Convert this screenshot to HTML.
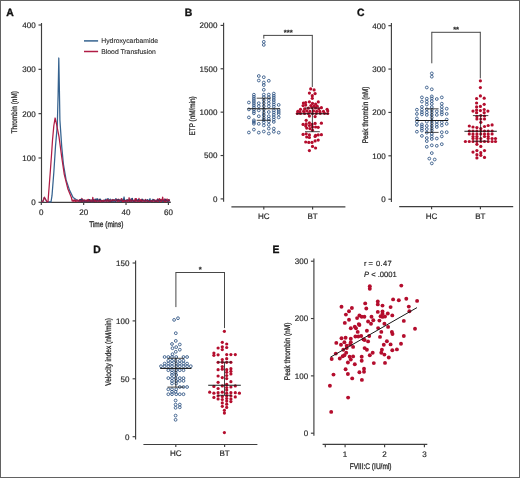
<!DOCTYPE html>
<html><head><meta charset="utf-8"><style>
html,body{margin:0;padding:0;background:#fff;}
body{width:520px;height:478px;overflow:hidden;font-family:"Liberation Sans",sans-serif;}
svg{display:block;will-change:transform;} text{text-rendering:geometricPrecision;}
</style></head><body>
<svg width="520" height="478" viewBox="0 0 520 478">
<rect x="0" y="0" width="520" height="478" fill="#fff"/>
<rect x="0.5" y="0.5" width="519" height="477" fill="none" stroke="#626262" stroke-width="1"/>
<text transform="translate(6.30,15.60) scale(0.98,1)" x="0" y="0" font-size="10.6" font-weight="bold" fill="#111" stroke="#111" stroke-width="0.35" font-family="Liberation Sans, sans-serif">A</text>
<text transform="translate(184.80,15.70) scale(0.98,1)" x="0" y="0" font-size="10.6" font-weight="bold" fill="#111" stroke="#111" stroke-width="0.35" font-family="Liberation Sans, sans-serif">B</text>
<text transform="translate(357.00,15.50) scale(0.98,1)" x="0" y="0" font-size="10.6" font-weight="bold" fill="#111" stroke="#111" stroke-width="0.35" font-family="Liberation Sans, sans-serif">C</text>
<text transform="translate(93.20,252.60) scale(0.98,1)" x="0" y="0" font-size="10.6" font-weight="bold" fill="#111" stroke="#111" stroke-width="0.35" font-family="Liberation Sans, sans-serif">D</text>
<text transform="translate(272.40,252.80) scale(0.98,1)" x="0" y="0" font-size="10.6" font-weight="bold" fill="#111" stroke="#111" stroke-width="0.35" font-family="Liberation Sans, sans-serif">E</text>
<line x1="41.50" y1="23.00" x2="41.50" y2="202.80" stroke="#3e3e3e" stroke-width="1.15"/>
<line x1="38.50" y1="202.30" x2="41.50" y2="202.30" stroke="#3e3e3e" stroke-width="1.15"/>
<text x="35.60" y="205.18" font-size="8.0" text-anchor="end" font-weight="normal" fill="#2a2a2a" stroke="#2a2a2a" stroke-width="0.2" font-family="Liberation Sans, sans-serif" >0</text>
<line x1="38.50" y1="157.98" x2="41.50" y2="157.98" stroke="#3e3e3e" stroke-width="1.15"/>
<text x="35.60" y="160.86" font-size="8.0" text-anchor="end" font-weight="normal" fill="#2a2a2a" stroke="#2a2a2a" stroke-width="0.2" font-family="Liberation Sans, sans-serif" >100</text>
<line x1="38.50" y1="113.65" x2="41.50" y2="113.65" stroke="#3e3e3e" stroke-width="1.15"/>
<text x="35.60" y="116.53" font-size="8.0" text-anchor="end" font-weight="normal" fill="#2a2a2a" stroke="#2a2a2a" stroke-width="0.2" font-family="Liberation Sans, sans-serif" >200</text>
<line x1="38.50" y1="69.32" x2="41.50" y2="69.32" stroke="#3e3e3e" stroke-width="1.15"/>
<text x="35.60" y="72.20" font-size="8.0" text-anchor="end" font-weight="normal" fill="#2a2a2a" stroke="#2a2a2a" stroke-width="0.2" font-family="Liberation Sans, sans-serif" >300</text>
<line x1="38.50" y1="25.00" x2="41.50" y2="25.00" stroke="#3e3e3e" stroke-width="1.15"/>
<text x="35.60" y="27.88" font-size="8.0" text-anchor="end" font-weight="normal" fill="#2a2a2a" stroke="#2a2a2a" stroke-width="0.2" font-family="Liberation Sans, sans-serif" >400</text>
<line x1="41.00" y1="202.30" x2="170.80" y2="202.30" stroke="#3e3e3e" stroke-width="1.15"/>
<line x1="41.30" y1="202.30" x2="41.30" y2="204.90" stroke="#3e3e3e" stroke-width="1.15"/>
<text x="41.30" y="214.60" font-size="8.0" text-anchor="middle" font-weight="normal" fill="#2a2a2a" stroke="#2a2a2a" stroke-width="0.2" font-family="Liberation Sans, sans-serif" >0</text>
<line x1="83.67" y1="202.30" x2="83.67" y2="204.90" stroke="#3e3e3e" stroke-width="1.15"/>
<text x="83.67" y="214.60" font-size="8.0" text-anchor="middle" font-weight="normal" fill="#2a2a2a" stroke="#2a2a2a" stroke-width="0.2" font-family="Liberation Sans, sans-serif" >20</text>
<line x1="126.03" y1="202.30" x2="126.03" y2="204.90" stroke="#3e3e3e" stroke-width="1.15"/>
<text x="126.03" y="214.60" font-size="8.0" text-anchor="middle" font-weight="normal" fill="#2a2a2a" stroke="#2a2a2a" stroke-width="0.2" font-family="Liberation Sans, sans-serif" >40</text>
<line x1="168.40" y1="202.30" x2="168.40" y2="204.90" stroke="#3e3e3e" stroke-width="1.15"/>
<text x="168.40" y="214.60" font-size="8.0" text-anchor="middle" font-weight="normal" fill="#2a2a2a" stroke="#2a2a2a" stroke-width="0.2" font-family="Liberation Sans, sans-serif" >60</text>
<text transform="translate(13.80,112.20) rotate(-90) scale(0.79,1)" x="0" y="2.87" font-size="8.2" text-anchor="middle" fill="#2a2a2a" stroke="#2a2a2a" stroke-width="0.3" font-family="Liberation Sans, sans-serif">Thrombin (nM)</text>
<text transform="translate(106.30,224.00) scale(0.8,1)" x="0" y="2.87" font-size="8.2" text-anchor="middle" fill="#2a2a2a" stroke="#2a2a2a" stroke-width="0.3" font-family="Liberation Sans, sans-serif">Time (mins)</text>
<line x1="84.00" y1="40.90" x2="98.10" y2="40.90" stroke="#35628f" stroke-width="1.5"/>
<line x1="84.00" y1="51.50" x2="98.10" y2="51.50" stroke="#b01c45" stroke-width="1.5"/>
<text x="101.30" y="43.40" font-size="6.8" text-anchor="start" font-weight="normal" fill="#2a2a2a" stroke="#2a2a2a" stroke-width="0.1" font-family="Liberation Sans, sans-serif" >Hydroxycarbamide</text>
<text x="101.30" y="53.60" font-size="6.8" text-anchor="start" font-weight="normal" fill="#2a2a2a" stroke="#2a2a2a" stroke-width="0.1" font-family="Liberation Sans, sans-serif" >Blood Transfusion</text>
<path d="M41.60,201.80 L43.00,201.30 L44.30,197.50 L45.60,199.50 L47.00,201.80 L51.00,201.80 L52.00,195.70 L53.80,172.80 L55.50,146.40 L57.30,125.30 L58.10,95.00 L58.80,58.00 L59.40,90.00 L59.90,120.00 L61.70,146.40 L63.40,164.00 L66.10,179.90 L69.60,190.40 L73.10,197.50 L78.40,201.00 L79.00,201.58 L79.55,200.07 L80.10,200.49 L80.65,200.41 L81.20,201.36 L81.75,201.36 L82.30,199.23 L82.85,201.50 L83.40,201.64 L83.95,200.75 L84.50,200.24 L85.05,201.66 L85.60,200.94 L86.15,200.43 L86.70,201.22 L87.25,201.13 L87.80,199.97 L88.35,199.74 L88.90,199.59 L89.45,201.39 L90.00,201.48 L90.55,201.28 L91.10,201.61 L91.65,199.96 L92.20,201.60 L92.75,201.39 L93.30,200.72 L93.85,200.60 L94.40,201.18 L94.95,199.08 L95.50,201.05 L96.05,198.84 L96.60,199.85 L97.15,200.27 L97.70,198.84 L98.25,200.66 L98.80,201.27 L99.35,201.29 L99.90,201.10 L100.45,201.01 L101.00,200.34 L101.55,201.40 L102.10,200.93 L102.65,200.91 L103.20,200.42 L103.75,201.64 L104.30,200.68 L104.85,200.31 L105.40,199.27 L105.95,200.28 L106.50,200.46 L107.05,198.98 L107.60,199.23 L108.15,198.57 L108.70,201.33 L109.25,201.02 L109.80,199.55 L110.35,199.12 L110.90,200.31 L111.45,200.75 L112.00,201.50 L112.55,200.83 L113.10,200.87 L113.65,200.22 L114.20,201.60 L114.75,201.24 L115.30,199.31 L115.85,198.57 L116.40,199.72 L116.95,200.47 L117.50,201.07 L118.05,201.30 L118.60,201.09 L119.15,199.56 L119.70,201.43 L120.25,201.42 L120.80,201.40 L121.35,201.44 L121.90,201.47 L122.45,200.56 L123.00,199.02 L123.55,199.22 L124.10,197.01 L124.65,201.54 L125.20,201.51 L125.75,201.22 L126.30,201.43 L126.85,201.51 L127.40,201.27 L127.95,200.44 L128.50,201.12 L129.05,201.22 L129.60,199.18 L130.15,201.01 L130.70,200.42 L131.25,198.68 L131.80,200.69 L132.35,200.93 L132.90,200.17 L133.45,201.31 L134.00,200.62 L134.55,200.33 L135.10,200.02 L135.65,201.04 L136.20,200.26 L136.75,201.14 L137.30,199.82 L137.85,200.83 L138.40,201.61 L138.95,200.60 L139.50,200.14 L140.05,201.48 L140.60,201.51 L141.15,201.64 L141.70,200.23 L142.25,200.83 L142.80,199.92 L143.35,201.47 L143.90,201.39 L144.45,201.36 L145.00,200.69 L145.55,200.65 L146.10,201.18 L146.65,200.61 L147.20,201.13 L147.75,199.65 L148.30,201.24 L148.85,201.64 L149.40,200.20 L149.95,198.71 L150.50,201.69 L151.05,200.26 L151.60,200.75 L152.15,201.07 L152.70,200.96 L153.25,200.85 L153.80,200.51 L154.35,200.42 L154.90,201.31 L155.45,200.50 L156.00,201.66 L156.55,201.40 L157.10,199.78 L157.65,200.81 L158.20,201.36 L158.75,200.84 L159.30,201.38 L159.85,200.79 L160.40,201.17 L160.95,200.42 L161.50,201.51 L162.05,201.13 L162.60,201.19 L163.15,200.65 L163.70,201.00 L164.25,200.49 L164.80,201.21 L165.35,201.08 L165.90,200.72 L166.45,200.09 L167.00,200.63 L167.55,200.76 L168.10,201.60 L168.65,201.05 L169.20,200.87 L169.75,201.54" fill="none" stroke="#35628f" stroke-width="1.25" stroke-linejoin="round"/>
<path d="M41.60,201.80 L43.00,201.10 L44.40,197.20 L45.80,199.80 L47.00,201.80 L48.00,201.60 L49.20,186.00 L50.40,170.30 L51.50,155.00 L52.50,140.20 L53.80,126.00 L55.10,118.00 L56.40,123.50 L59.00,136.70 L61.70,157.00 L64.30,174.60 L67.80,188.70 L71.40,197.50 L72.20,201.00 L73.00,200.11 L73.55,201.21 L74.10,200.41 L74.65,201.03 L75.20,199.97 L75.75,201.61 L76.30,201.08 L76.85,200.27 L77.40,200.12 L77.95,200.02 L78.50,200.78 L79.05,201.08 L79.60,199.71 L80.15,200.42 L80.70,201.57 L81.25,201.34 L81.80,198.36 L82.35,201.32 L82.90,200.68 L83.45,200.22 L84.00,201.58 L84.55,201.51 L85.10,201.25 L85.65,201.62 L86.20,201.34 L86.75,200.80 L87.30,200.27 L87.85,201.43 L88.40,199.37 L88.95,200.79 L89.50,199.85 L90.05,201.48 L90.60,199.78 L91.15,201.70 L91.70,200.69 L92.25,201.42 L92.80,197.41 L93.35,201.64 L93.90,200.60 L94.45,199.98 L95.00,201.33 L95.55,200.84 L96.10,201.58 L96.65,201.22 L97.20,201.57 L97.75,200.39 L98.30,200.97 L98.85,200.64 L99.40,199.27 L99.95,201.04 L100.50,200.81 L101.05,201.70 L101.60,200.46 L102.15,200.92 L102.70,200.40 L103.25,201.54 L103.80,200.06 L104.35,200.89 L104.90,201.52 L105.45,200.69 L106.00,200.70 L106.55,201.09 L107.10,199.57 L107.65,201.21 L108.20,200.98 L108.75,201.04 L109.30,201.33 L109.85,201.43 L110.40,201.46 L110.95,200.92 L111.50,200.38 L112.05,201.18 L112.60,200.93 L113.15,199.74 L113.70,200.43 L114.25,200.33 L114.80,200.69 L115.35,200.79 L115.90,201.46 L116.45,200.70 L117.00,199.39 L117.55,201.27 L118.10,200.80 L118.65,199.15 L119.20,201.38 L119.75,200.44 L120.30,200.56 L120.85,200.22 L121.40,198.54 L121.95,199.39 L122.50,201.47 L123.05,200.72 L123.60,201.54 L124.15,200.55 L124.70,201.55 L125.25,201.21 L125.80,200.25 L126.35,200.78 L126.90,201.62 L127.45,199.94 L128.00,200.71 L128.55,200.67 L129.10,200.25 L129.65,201.32 L130.20,199.37 L130.75,200.52 L131.30,201.39 L131.85,201.01 L132.40,199.69 L132.95,200.39 L133.50,201.70 L134.05,200.86 L134.60,201.49 L135.15,198.62 L135.70,200.65 L136.25,198.69 L136.80,200.39 L137.35,200.51 L137.90,201.16 L138.45,201.41 L139.00,198.46 L139.55,200.90 L140.10,201.55 L140.65,199.68 L141.20,201.59 L141.75,199.28 L142.30,200.81 L142.85,201.08 L143.40,200.76 L143.95,199.85 L144.50,200.85 L145.05,201.31 L145.60,199.33 L146.15,200.77 L146.70,200.91 L147.25,201.01 L147.80,200.94 L148.35,201.26 L148.90,200.68 L149.45,201.59 L150.00,201.27 L150.55,201.55 L151.10,201.14 L151.65,200.58 L152.20,201.08 L152.75,201.40 L153.30,199.93 L153.85,199.62 L154.40,199.81 L154.95,201.47 L155.50,201.08 L156.05,200.09 L156.60,201.48 L157.15,201.43 L157.70,198.86 L158.25,201.38 L158.80,200.69 L159.35,198.52 L159.90,199.87 L160.45,201.45 L161.00,199.61 L161.55,201.47 L162.10,199.61 L162.65,197.18 L163.20,200.25 L163.75,200.96 L164.30,201.47 L164.85,198.92 L165.40,201.54 L165.95,199.68 L166.50,200.92 L167.05,198.92 L167.60,200.52 L168.15,200.11 L168.70,199.56 L169.25,200.16 L169.80,199.71" fill="none" stroke="#b01c45" stroke-width="1.25" stroke-linejoin="round"/>
<path d="M79.00,200.29 L79.55,200.32 L80.10,200.90 L80.65,198.95 L81.20,201.53 L81.75,198.99 L82.30,200.38 L82.85,201.46 L83.40,200.07 L83.95,201.09 L84.50,201.22 L85.05,201.36 L85.60,200.81 L86.15,201.53 L86.70,200.19 L87.25,201.27 L87.80,200.86 L88.35,201.63 L88.90,201.21 L89.45,199.07 L90.00,201.63 L90.55,201.00 L91.10,201.51 L91.65,201.07 L92.20,201.24 L92.75,201.28 L93.30,199.27 L93.85,201.67 L94.40,201.49 L94.95,200.89 L95.50,199.28 L96.05,201.43 L96.60,200.95 L97.15,198.73 L97.70,199.95 L98.25,201.26 L98.80,200.90 L99.35,198.96 L99.90,200.56 L100.45,198.79 L101.00,200.91 L101.55,201.07 L102.10,201.24 L102.65,201.15 L103.20,201.43 L103.75,201.35 L104.30,201.18 L104.85,200.15 L105.40,199.89 L105.95,201.66 L106.50,201.16 L107.05,200.82 L107.60,201.13 L108.15,200.45 L108.70,201.15 L109.25,200.44 L109.80,201.58 L110.35,201.31 L110.90,201.45 L111.45,201.66 L112.00,201.70 L112.55,199.38 L113.10,199.60 L113.65,201.46 L114.20,200.65 L114.75,200.52 L115.30,201.33 L115.85,201.68 L116.40,200.44 L116.95,198.99 L117.50,201.04 L118.05,199.80 L118.60,199.11 L119.15,200.47 L119.70,201.07 L120.25,200.77 L120.80,199.65 L121.35,201.38 L121.90,200.15 L122.45,200.45 L123.00,201.00 L123.55,199.43 L124.10,198.88 L124.65,201.04 L125.20,200.78 L125.75,201.11 L126.30,199.64 L126.85,199.98 L127.40,200.24 L127.95,199.40 L128.50,200.70 L129.05,201.41 L129.60,201.39 L130.15,201.01 L130.70,201.10 L131.25,201.38 L131.80,200.19 L132.35,197.93 L132.90,201.50 L133.45,201.38 L134.00,200.22 L134.55,201.58 L135.10,200.97 L135.65,201.21 L136.20,199.83 L136.75,200.45 L137.30,200.49 L137.85,201.35 L138.40,199.19 L138.95,200.78 L139.50,200.33 L140.05,201.41 L140.60,201.37 L141.15,201.16 L141.70,201.36 L142.25,198.78 L142.80,200.26 L143.35,200.16 L143.90,200.70 L144.45,200.90 L145.00,200.33 L145.55,199.83 L146.10,201.33 L146.65,200.43 L147.20,199.35 L147.75,201.69 L148.30,200.40 L148.85,201.50 L149.40,199.76 L149.95,201.56 L150.50,200.71 L151.05,201.57 L151.60,201.14 L152.15,201.32 L152.70,199.14 L153.25,199.20 L153.80,200.07 L154.35,201.28 L154.90,200.61 L155.45,201.70 L156.00,200.89 L156.55,201.19 L157.10,201.22 L157.65,199.34 L158.20,200.34 L158.75,200.09 L159.30,201.41 L159.85,199.87 L160.40,200.66 L160.95,199.96 L161.50,200.47 L162.05,200.28 L162.60,201.43 L163.15,200.34 L163.70,201.47 L164.25,199.88 L164.80,200.91 L165.35,198.91 L165.90,200.77 L166.45,200.42 L167.00,200.19 L167.55,201.59 L168.10,201.69 L168.65,199.91 L169.20,199.55 L169.75,201.19" fill="none" stroke="#243a66" stroke-width="0.9" stroke-linejoin="round"/>
<path d="M73.00,201.60 L73.55,199.88 L74.10,200.76 L74.65,199.56 L75.20,201.36 L75.75,200.90 L76.30,201.18 L76.85,201.02 L77.40,201.64 L77.95,201.07 L78.50,200.88 L79.05,201.54 L79.60,201.35 L80.15,200.47 L80.70,200.84 L81.25,200.30 L81.80,200.74 L82.35,201.61 L82.90,200.23 L83.45,199.76 L84.00,200.90 L84.55,199.68 L85.10,200.78 L85.65,199.94 L86.20,199.67 L86.75,201.03 L87.30,201.60 L87.85,199.36 L88.40,199.69 L88.95,201.53 L89.50,200.53 L90.05,201.20 L90.60,200.86 L91.15,200.74 L91.70,201.47 L92.25,201.15 L92.80,200.79 L93.35,199.76 L93.90,199.87 L94.45,201.53 L95.00,199.82 L95.55,201.03 L96.10,200.51 L96.65,200.35 L97.20,201.00 L97.75,201.44 L98.30,201.27 L98.85,200.30 L99.40,201.67 L99.95,200.37 L100.50,200.75 L101.05,200.96 L101.60,200.75 L102.15,200.68 L102.70,201.62 L103.25,200.82 L103.80,201.31 L104.35,200.62 L104.90,200.14 L105.45,200.93 L106.00,200.56 L106.55,201.36 L107.10,201.16 L107.65,198.96 L108.20,201.06 L108.75,201.52 L109.30,200.91 L109.85,199.55 L110.40,201.25 L110.95,201.16 L111.50,199.63 L112.05,200.45 L112.60,200.07 L113.15,200.28 L113.70,201.02 L114.25,199.45 L114.80,200.35 L115.35,200.35 L115.90,199.62 L116.45,199.27 L117.00,200.17 L117.55,200.54 L118.10,201.30 L118.65,200.08 L119.20,200.30 L119.75,200.92 L120.30,200.47 L120.85,200.20 L121.40,201.15 L121.95,200.86 L122.50,200.77 L123.05,200.14 L123.60,201.05 L124.15,201.14 L124.70,200.14 L125.25,200.97 L125.80,200.29 L126.35,201.18 L126.90,200.45 L127.45,201.39 L128.00,201.41 L128.55,201.26 L129.10,197.48 L129.65,201.62 L130.20,200.97 L130.75,201.00 L131.30,201.51 L131.85,200.09 L132.40,200.50 L132.95,201.07 L133.50,200.18 L134.05,200.01 L134.60,200.62 L135.15,201.66 L135.70,198.53 L136.25,201.63 L136.80,200.35 L137.35,201.56 L137.90,201.21 L138.45,200.82 L139.00,200.31 L139.55,201.42 L140.10,200.04 L140.65,200.65 L141.20,201.60 L141.75,199.88 L142.30,201.16 L142.85,200.95 L143.40,200.74 L143.95,201.11 L144.50,201.66 L145.05,200.71 L145.60,201.38 L146.15,200.63 L146.70,200.53 L147.25,201.41 L147.80,199.97 L148.35,200.65 L148.90,201.61 L149.45,201.64 L150.00,201.58 L150.55,200.93 L151.10,200.18 L151.65,201.52 L152.20,201.21 L152.75,200.84 L153.30,201.10 L153.85,201.44 L154.40,201.32 L154.95,201.26 L155.50,201.32 L156.05,200.95 L156.60,201.31 L157.15,200.58 L157.70,201.08 L158.25,201.57 L158.80,200.87 L159.35,200.71 L159.90,199.11 L160.45,199.15 L161.00,200.27 L161.55,201.30 L162.10,200.21 L162.65,200.13 L163.20,200.58 L163.75,199.42 L164.30,201.10 L164.85,201.53 L165.40,200.79 L165.95,201.67 L166.50,201.24 L167.05,201.20 L167.60,200.55 L168.15,201.55 L168.70,200.49 L169.25,199.91 L169.80,201.27" fill="none" stroke="#a3143a" stroke-width="0.9" stroke-linejoin="round"/>
<line x1="223.60" y1="22.80" x2="223.60" y2="201.70" stroke="#3e3e3e" stroke-width="1.15"/>
<line x1="220.60" y1="198.90" x2="223.60" y2="198.90" stroke="#3e3e3e" stroke-width="1.15"/>
<text x="217.40" y="201.78" font-size="8.0" text-anchor="end" font-weight="normal" fill="#2a2a2a" stroke="#2a2a2a" stroke-width="0.2" font-family="Liberation Sans, sans-serif" >0</text>
<line x1="220.60" y1="155.53" x2="223.60" y2="155.53" stroke="#3e3e3e" stroke-width="1.15"/>
<text x="217.40" y="158.41" font-size="8.0" text-anchor="end" font-weight="normal" fill="#2a2a2a" stroke="#2a2a2a" stroke-width="0.2" font-family="Liberation Sans, sans-serif" >500</text>
<line x1="220.60" y1="112.15" x2="223.60" y2="112.15" stroke="#3e3e3e" stroke-width="1.15"/>
<text x="217.40" y="115.03" font-size="8.0" text-anchor="end" font-weight="normal" fill="#2a2a2a" stroke="#2a2a2a" stroke-width="0.2" font-family="Liberation Sans, sans-serif" >1000</text>
<line x1="220.60" y1="68.78" x2="223.60" y2="68.78" stroke="#3e3e3e" stroke-width="1.15"/>
<text x="217.40" y="71.66" font-size="8.0" text-anchor="end" font-weight="normal" fill="#2a2a2a" stroke="#2a2a2a" stroke-width="0.2" font-family="Liberation Sans, sans-serif" >1500</text>
<line x1="220.60" y1="25.40" x2="223.60" y2="25.40" stroke="#3e3e3e" stroke-width="1.15"/>
<text x="217.40" y="28.28" font-size="8.0" text-anchor="end" font-weight="normal" fill="#2a2a2a" stroke="#2a2a2a" stroke-width="0.2" font-family="Liberation Sans, sans-serif" >2000</text>
<line x1="231.40" y1="206.80" x2="345.40" y2="206.80" stroke="#3e3e3e" stroke-width="1.15"/>
<line x1="263.80" y1="206.80" x2="263.80" y2="209.40" stroke="#3e3e3e" stroke-width="1.15"/>
<text x="263.80" y="218.70" font-size="8.0" text-anchor="middle" font-weight="normal" fill="#2a2a2a" stroke="#2a2a2a" stroke-width="0.2" font-family="Liberation Sans, sans-serif" >HC</text>
<line x1="312.60" y1="206.80" x2="312.60" y2="209.40" stroke="#3e3e3e" stroke-width="1.15"/>
<text x="312.60" y="218.70" font-size="8.0" text-anchor="middle" font-weight="normal" fill="#2a2a2a" stroke="#2a2a2a" stroke-width="0.2" font-family="Liberation Sans, sans-serif" >BT</text>
<text transform="translate(192.00,115.90) rotate(-90) scale(0.78,1)" x="0" y="2.87" font-size="8.2" text-anchor="middle" fill="#2a2a2a" stroke="#2a2a2a" stroke-width="0.3" font-family="Liberation Sans, sans-serif">ETP (nM/min)</text>
<circle cx="248.90" cy="102.50" r="1.4" fill="none" stroke="#2c5282" stroke-width="0.85"/>
<circle cx="248.90" cy="109.40" r="1.4" fill="none" stroke="#2c5282" stroke-width="0.85"/>
<circle cx="248.90" cy="117.40" r="1.4" fill="none" stroke="#2c5282" stroke-width="0.85"/>
<circle cx="248.90" cy="132.50" r="1.4" fill="none" stroke="#2c5282" stroke-width="0.85"/>
<circle cx="253.90" cy="94.70" r="1.4" fill="none" stroke="#2c5282" stroke-width="0.85"/>
<circle cx="253.90" cy="96.80" r="1.4" fill="none" stroke="#2c5282" stroke-width="0.85"/>
<circle cx="253.90" cy="98.90" r="1.4" fill="none" stroke="#2c5282" stroke-width="0.85"/>
<circle cx="253.90" cy="101.00" r="1.4" fill="none" stroke="#2c5282" stroke-width="0.85"/>
<circle cx="253.90" cy="103.10" r="1.4" fill="none" stroke="#2c5282" stroke-width="0.85"/>
<circle cx="253.90" cy="105.20" r="1.4" fill="none" stroke="#2c5282" stroke-width="0.85"/>
<circle cx="253.90" cy="107.30" r="1.4" fill="none" stroke="#2c5282" stroke-width="0.85"/>
<circle cx="253.90" cy="109.40" r="1.4" fill="none" stroke="#2c5282" stroke-width="0.85"/>
<circle cx="253.90" cy="111.50" r="1.4" fill="none" stroke="#2c5282" stroke-width="0.85"/>
<circle cx="253.90" cy="113.30" r="1.4" fill="none" stroke="#2c5282" stroke-width="0.85"/>
<circle cx="253.90" cy="120.30" r="1.4" fill="none" stroke="#2c5282" stroke-width="0.85"/>
<circle cx="253.90" cy="122.00" r="1.4" fill="none" stroke="#2c5282" stroke-width="0.85"/>
<circle cx="253.90" cy="123.80" r="1.4" fill="none" stroke="#2c5282" stroke-width="0.85"/>
<circle cx="253.90" cy="129.60" r="1.4" fill="none" stroke="#2c5282" stroke-width="0.85"/>
<circle cx="258.80" cy="76.00" r="1.4" fill="none" stroke="#2c5282" stroke-width="0.85"/>
<circle cx="258.80" cy="80.50" r="1.4" fill="none" stroke="#2c5282" stroke-width="0.85"/>
<circle cx="258.80" cy="103.20" r="1.4" fill="none" stroke="#2c5282" stroke-width="0.85"/>
<circle cx="258.80" cy="106.20" r="1.4" fill="none" stroke="#2c5282" stroke-width="0.85"/>
<circle cx="258.80" cy="110.40" r="1.4" fill="none" stroke="#2c5282" stroke-width="0.85"/>
<circle cx="258.80" cy="116.20" r="1.4" fill="none" stroke="#2c5282" stroke-width="0.85"/>
<circle cx="258.80" cy="123.80" r="1.4" fill="none" stroke="#2c5282" stroke-width="0.85"/>
<circle cx="258.80" cy="132.60" r="1.4" fill="none" stroke="#2c5282" stroke-width="0.85"/>
<circle cx="263.80" cy="41.80" r="1.4" fill="none" stroke="#2c5282" stroke-width="0.85"/>
<circle cx="263.80" cy="44.90" r="1.4" fill="none" stroke="#2c5282" stroke-width="0.85"/>
<circle cx="263.80" cy="77.20" r="1.4" fill="none" stroke="#2c5282" stroke-width="0.85"/>
<circle cx="263.80" cy="82.50" r="1.4" fill="none" stroke="#2c5282" stroke-width="0.85"/>
<circle cx="263.80" cy="85.10" r="1.4" fill="none" stroke="#2c5282" stroke-width="0.85"/>
<circle cx="263.80" cy="89.80" r="1.4" fill="none" stroke="#2c5282" stroke-width="0.85"/>
<circle cx="263.80" cy="94.60" r="1.4" fill="none" stroke="#2c5282" stroke-width="0.85"/>
<circle cx="263.80" cy="97.20" r="1.4" fill="none" stroke="#2c5282" stroke-width="0.85"/>
<circle cx="263.80" cy="100.20" r="1.4" fill="none" stroke="#2c5282" stroke-width="0.85"/>
<circle cx="263.80" cy="103.20" r="1.4" fill="none" stroke="#2c5282" stroke-width="0.85"/>
<circle cx="263.80" cy="106.20" r="1.4" fill="none" stroke="#2c5282" stroke-width="0.85"/>
<circle cx="263.80" cy="109.40" r="1.4" fill="none" stroke="#2c5282" stroke-width="0.85"/>
<circle cx="263.80" cy="112.60" r="1.4" fill="none" stroke="#2c5282" stroke-width="0.85"/>
<circle cx="263.80" cy="115.10" r="1.4" fill="none" stroke="#2c5282" stroke-width="0.85"/>
<circle cx="263.80" cy="117.70" r="1.4" fill="none" stroke="#2c5282" stroke-width="0.85"/>
<circle cx="263.80" cy="119.90" r="1.4" fill="none" stroke="#2c5282" stroke-width="0.85"/>
<circle cx="263.80" cy="122.40" r="1.4" fill="none" stroke="#2c5282" stroke-width="0.85"/>
<circle cx="263.80" cy="125.40" r="1.4" fill="none" stroke="#2c5282" stroke-width="0.85"/>
<circle cx="263.80" cy="131.50" r="1.4" fill="none" stroke="#2c5282" stroke-width="0.85"/>
<circle cx="268.80" cy="80.80" r="1.4" fill="none" stroke="#2c5282" stroke-width="0.85"/>
<circle cx="268.80" cy="94.60" r="1.4" fill="none" stroke="#2c5282" stroke-width="0.85"/>
<circle cx="268.80" cy="97.30" r="1.4" fill="none" stroke="#2c5282" stroke-width="0.85"/>
<circle cx="268.80" cy="100.30" r="1.4" fill="none" stroke="#2c5282" stroke-width="0.85"/>
<circle cx="268.80" cy="103.30" r="1.4" fill="none" stroke="#2c5282" stroke-width="0.85"/>
<circle cx="268.80" cy="106.30" r="1.4" fill="none" stroke="#2c5282" stroke-width="0.85"/>
<circle cx="268.80" cy="112.00" r="1.4" fill="none" stroke="#2c5282" stroke-width="0.85"/>
<circle cx="268.80" cy="116.20" r="1.4" fill="none" stroke="#2c5282" stroke-width="0.85"/>
<circle cx="268.80" cy="118.80" r="1.4" fill="none" stroke="#2c5282" stroke-width="0.85"/>
<circle cx="268.80" cy="121.40" r="1.4" fill="none" stroke="#2c5282" stroke-width="0.85"/>
<circle cx="268.80" cy="124.80" r="1.4" fill="none" stroke="#2c5282" stroke-width="0.85"/>
<circle cx="268.80" cy="128.60" r="1.4" fill="none" stroke="#2c5282" stroke-width="0.85"/>
<circle cx="268.80" cy="133.50" r="1.4" fill="none" stroke="#2c5282" stroke-width="0.85"/>
<circle cx="273.80" cy="93.60" r="1.4" fill="none" stroke="#2c5282" stroke-width="0.85"/>
<circle cx="273.80" cy="95.80" r="1.4" fill="none" stroke="#2c5282" stroke-width="0.85"/>
<circle cx="273.80" cy="97.80" r="1.4" fill="none" stroke="#2c5282" stroke-width="0.85"/>
<circle cx="273.80" cy="100.00" r="1.4" fill="none" stroke="#2c5282" stroke-width="0.85"/>
<circle cx="273.80" cy="102.30" r="1.4" fill="none" stroke="#2c5282" stroke-width="0.85"/>
<circle cx="273.80" cy="104.50" r="1.4" fill="none" stroke="#2c5282" stroke-width="0.85"/>
<circle cx="273.80" cy="106.70" r="1.4" fill="none" stroke="#2c5282" stroke-width="0.85"/>
<circle cx="273.80" cy="110.40" r="1.4" fill="none" stroke="#2c5282" stroke-width="0.85"/>
<circle cx="273.80" cy="112.50" r="1.4" fill="none" stroke="#2c5282" stroke-width="0.85"/>
<circle cx="273.80" cy="114.80" r="1.4" fill="none" stroke="#2c5282" stroke-width="0.85"/>
<circle cx="273.80" cy="117.20" r="1.4" fill="none" stroke="#2c5282" stroke-width="0.85"/>
<circle cx="273.80" cy="119.60" r="1.4" fill="none" stroke="#2c5282" stroke-width="0.85"/>
<circle cx="273.80" cy="121.90" r="1.4" fill="none" stroke="#2c5282" stroke-width="0.85"/>
<circle cx="273.80" cy="128.60" r="1.4" fill="none" stroke="#2c5282" stroke-width="0.85"/>
<circle cx="273.80" cy="131.70" r="1.4" fill="none" stroke="#2c5282" stroke-width="0.85"/>
<circle cx="278.70" cy="104.90" r="1.4" fill="none" stroke="#2c5282" stroke-width="0.85"/>
<circle cx="278.70" cy="109.90" r="1.4" fill="none" stroke="#2c5282" stroke-width="0.85"/>
<circle cx="278.70" cy="112.00" r="1.4" fill="none" stroke="#2c5282" stroke-width="0.85"/>
<circle cx="278.70" cy="114.10" r="1.4" fill="none" stroke="#2c5282" stroke-width="0.85"/>
<circle cx="278.70" cy="117.40" r="1.4" fill="none" stroke="#2c5282" stroke-width="0.85"/>
<circle cx="278.70" cy="132.60" r="1.4" fill="none" stroke="#2c5282" stroke-width="0.85"/>
<line x1="247.55" y1="108.80" x2="280.05" y2="108.80" stroke="#1a1a1a" stroke-width="1.1"/>
<line x1="256.70" y1="98.20" x2="270.90" y2="98.20" stroke="#1a1a1a" stroke-width="0.8"/>
<line x1="256.70" y1="120.30" x2="270.90" y2="120.30" stroke="#1a1a1a" stroke-width="0.8"/>
<line x1="263.80" y1="98.20" x2="263.80" y2="120.30" stroke="#1a1a1a" stroke-width="0.8"/>
<circle cx="310.70" cy="88.90" r="1.6" fill="#b40d2d"/>
<circle cx="314.10" cy="89.90" r="1.6" fill="#b40d2d"/>
<circle cx="309.40" cy="93.10" r="1.6" fill="#b40d2d"/>
<circle cx="315.10" cy="93.60" r="1.6" fill="#b40d2d"/>
<circle cx="312.30" cy="95.70" r="1.6" fill="#b40d2d"/>
<circle cx="312.30" cy="98.30" r="1.6" fill="#b40d2d"/>
<circle cx="303.40" cy="103.00" r="1.6" fill="#b40d2d"/>
<circle cx="305.70" cy="102.50" r="1.6" fill="#b40d2d"/>
<circle cx="309.40" cy="101.80" r="1.6" fill="#b40d2d"/>
<circle cx="312.50" cy="103.40" r="1.6" fill="#b40d2d"/>
<circle cx="315.60" cy="104.10" r="1.6" fill="#b40d2d"/>
<circle cx="318.30" cy="101.90" r="1.6" fill="#b40d2d"/>
<circle cx="303.10" cy="105.60" r="1.6" fill="#b40d2d"/>
<circle cx="305.70" cy="105.10" r="1.6" fill="#b40d2d"/>
<circle cx="310.90" cy="105.60" r="1.6" fill="#b40d2d"/>
<circle cx="314.10" cy="106.20" r="1.6" fill="#b40d2d"/>
<circle cx="317.20" cy="106.20" r="1.6" fill="#b40d2d"/>
<circle cx="300.50" cy="109.30" r="1.6" fill="#b40d2d"/>
<circle cx="304.60" cy="108.80" r="1.6" fill="#b40d2d"/>
<circle cx="308.30" cy="108.20" r="1.6" fill="#b40d2d"/>
<circle cx="312.00" cy="107.70" r="1.6" fill="#b40d2d"/>
<circle cx="315.60" cy="108.00" r="1.6" fill="#b40d2d"/>
<circle cx="318.80" cy="108.80" r="1.6" fill="#b40d2d"/>
<circle cx="321.40" cy="107.70" r="1.6" fill="#b40d2d"/>
<circle cx="327.10" cy="109.30" r="1.6" fill="#b40d2d"/>
<circle cx="297.80" cy="111.40" r="1.6" fill="#b40d2d"/>
<circle cx="299.90" cy="111.90" r="1.6" fill="#b40d2d"/>
<circle cx="303.60" cy="111.40" r="1.6" fill="#b40d2d"/>
<circle cx="306.70" cy="110.90" r="1.6" fill="#b40d2d"/>
<circle cx="309.90" cy="111.40" r="1.6" fill="#b40d2d"/>
<circle cx="313.50" cy="110.90" r="1.6" fill="#b40d2d"/>
<circle cx="316.70" cy="111.40" r="1.6" fill="#b40d2d"/>
<circle cx="319.80" cy="111.40" r="1.6" fill="#b40d2d"/>
<circle cx="323.50" cy="111.40" r="1.6" fill="#b40d2d"/>
<circle cx="327.70" cy="110.90" r="1.6" fill="#b40d2d"/>
<circle cx="297.30" cy="113.50" r="1.6" fill="#b40d2d"/>
<circle cx="300.50" cy="113.50" r="1.6" fill="#b40d2d"/>
<circle cx="304.60" cy="113.50" r="1.6" fill="#b40d2d"/>
<circle cx="308.30" cy="113.50" r="1.6" fill="#b40d2d"/>
<circle cx="312.50" cy="113.50" r="1.6" fill="#b40d2d"/>
<circle cx="316.20" cy="113.50" r="1.6" fill="#b40d2d"/>
<circle cx="320.30" cy="113.30" r="1.6" fill="#b40d2d"/>
<circle cx="324.50" cy="113.30" r="1.6" fill="#b40d2d"/>
<circle cx="327.70" cy="113.50" r="1.6" fill="#b40d2d"/>
<circle cx="309.40" cy="116.10" r="1.6" fill="#b40d2d"/>
<circle cx="315.10" cy="116.60" r="1.6" fill="#b40d2d"/>
<circle cx="306.20" cy="120.30" r="1.6" fill="#b40d2d"/>
<circle cx="303.10" cy="124.40" r="1.6" fill="#b40d2d"/>
<circle cx="306.20" cy="123.90" r="1.6" fill="#b40d2d"/>
<circle cx="309.40" cy="122.80" r="1.6" fill="#b40d2d"/>
<circle cx="312.00" cy="124.40" r="1.6" fill="#b40d2d"/>
<circle cx="315.10" cy="123.40" r="1.6" fill="#b40d2d"/>
<circle cx="321.40" cy="123.20" r="1.6" fill="#b40d2d"/>
<circle cx="305.70" cy="126.00" r="1.6" fill="#b40d2d"/>
<circle cx="309.40" cy="125.50" r="1.6" fill="#b40d2d"/>
<circle cx="312.50" cy="127.00" r="1.6" fill="#b40d2d"/>
<circle cx="315.60" cy="127.00" r="1.6" fill="#b40d2d"/>
<circle cx="318.20" cy="127.30" r="1.6" fill="#b40d2d"/>
<circle cx="306.70" cy="128.10" r="1.6" fill="#b40d2d"/>
<circle cx="309.90" cy="128.60" r="1.6" fill="#b40d2d"/>
<circle cx="312.50" cy="130.20" r="1.6" fill="#b40d2d"/>
<circle cx="303.10" cy="134.40" r="1.6" fill="#b40d2d"/>
<circle cx="306.20" cy="133.80" r="1.6" fill="#b40d2d"/>
<circle cx="309.40" cy="134.90" r="1.6" fill="#b40d2d"/>
<circle cx="315.60" cy="135.40" r="1.6" fill="#b40d2d"/>
<circle cx="318.20" cy="134.90" r="1.6" fill="#b40d2d"/>
<circle cx="321.40" cy="134.70" r="1.6" fill="#b40d2d"/>
<circle cx="306.70" cy="137.00" r="1.6" fill="#b40d2d"/>
<circle cx="309.40" cy="137.50" r="1.6" fill="#b40d2d"/>
<circle cx="315.10" cy="136.40" r="1.6" fill="#b40d2d"/>
<circle cx="305.70" cy="142.00" r="1.6" fill="#b40d2d"/>
<circle cx="308.80" cy="142.40" r="1.6" fill="#b40d2d"/>
<circle cx="312.00" cy="142.40" r="1.6" fill="#b40d2d"/>
<circle cx="315.10" cy="140.90" r="1.6" fill="#b40d2d"/>
<circle cx="318.20" cy="140.10" r="1.6" fill="#b40d2d"/>
<circle cx="312.50" cy="146.40" r="1.6" fill="#b40d2d"/>
<circle cx="315.60" cy="148.00" r="1.6" fill="#b40d2d"/>
<circle cx="309.40" cy="150.60" r="1.6" fill="#b40d2d"/>
<line x1="296.20" y1="113.70" x2="328.60" y2="113.70" stroke="#1a1a1a" stroke-width="1.1"/>
<line x1="305.00" y1="108.00" x2="319.80" y2="108.00" stroke="#1a1a1a" stroke-width="0.8"/>
<line x1="305.00" y1="131.70" x2="319.80" y2="131.70" stroke="#1a1a1a" stroke-width="0.8"/>
<line x1="312.40" y1="108.00" x2="312.40" y2="131.70" stroke="#1a1a1a" stroke-width="0.8"/>
<line x1="263.80" y1="35.40" x2="312.30" y2="35.40" stroke="#474747" stroke-width="1.0"/>
<line x1="263.80" y1="34.90" x2="263.80" y2="38.60" stroke="#474747" stroke-width="1.0"/>
<line x1="312.30" y1="34.90" x2="312.30" y2="87.00" stroke="#474747" stroke-width="1.0"/>
<text x="288.20" y="35.00" font-size="7.6" text-anchor="middle" font-weight="bold" fill="#2a2a2a" stroke="#2a2a2a" stroke-width="0.15" font-family="Liberation Sans, sans-serif" >***</text>
<line x1="391.40" y1="23.08" x2="391.40" y2="202.00" stroke="#3e3e3e" stroke-width="1.15"/>
<line x1="388.40" y1="199.20" x2="391.40" y2="199.20" stroke="#3e3e3e" stroke-width="1.15"/>
<text x="385.70" y="202.08" font-size="8.0" text-anchor="end" font-weight="normal" fill="#2a2a2a" stroke="#2a2a2a" stroke-width="0.2" font-family="Liberation Sans, sans-serif" >0</text>
<line x1="388.40" y1="155.82" x2="391.40" y2="155.82" stroke="#3e3e3e" stroke-width="1.15"/>
<text x="385.70" y="158.70" font-size="8.0" text-anchor="end" font-weight="normal" fill="#2a2a2a" stroke="#2a2a2a" stroke-width="0.2" font-family="Liberation Sans, sans-serif" >100</text>
<line x1="388.40" y1="112.44" x2="391.40" y2="112.44" stroke="#3e3e3e" stroke-width="1.15"/>
<text x="385.70" y="115.32" font-size="8.0" text-anchor="end" font-weight="normal" fill="#2a2a2a" stroke="#2a2a2a" stroke-width="0.2" font-family="Liberation Sans, sans-serif" >200</text>
<line x1="388.40" y1="69.06" x2="391.40" y2="69.06" stroke="#3e3e3e" stroke-width="1.15"/>
<text x="385.70" y="71.94" font-size="8.0" text-anchor="end" font-weight="normal" fill="#2a2a2a" stroke="#2a2a2a" stroke-width="0.2" font-family="Liberation Sans, sans-serif" >300</text>
<line x1="388.40" y1="25.68" x2="391.40" y2="25.68" stroke="#3e3e3e" stroke-width="1.15"/>
<text x="385.70" y="28.56" font-size="8.0" text-anchor="end" font-weight="normal" fill="#2a2a2a" stroke="#2a2a2a" stroke-width="0.2" font-family="Liberation Sans, sans-serif" >400</text>
<line x1="399.20" y1="206.60" x2="513.20" y2="206.60" stroke="#3e3e3e" stroke-width="1.15"/>
<line x1="431.60" y1="206.60" x2="431.60" y2="209.20" stroke="#3e3e3e" stroke-width="1.15"/>
<text x="431.60" y="218.50" font-size="8.0" text-anchor="middle" font-weight="normal" fill="#2a2a2a" stroke="#2a2a2a" stroke-width="0.2" font-family="Liberation Sans, sans-serif" >HC</text>
<line x1="480.40" y1="206.60" x2="480.40" y2="209.20" stroke="#3e3e3e" stroke-width="1.15"/>
<text x="480.40" y="218.50" font-size="8.0" text-anchor="middle" font-weight="normal" fill="#2a2a2a" stroke="#2a2a2a" stroke-width="0.2" font-family="Liberation Sans, sans-serif" >BT</text>
<text transform="translate(365.60,114.90) rotate(-90) scale(0.79,1)" x="0" y="2.87" font-size="8.2" text-anchor="middle" fill="#2a2a2a" stroke="#2a2a2a" stroke-width="0.3" font-family="Liberation Sans, sans-serif">Peak thrombin (nM)</text>
<circle cx="416.90" cy="109.70" r="1.4" fill="none" stroke="#2c5282" stroke-width="0.85"/>
<circle cx="416.90" cy="113.90" r="1.4" fill="none" stroke="#2c5282" stroke-width="0.85"/>
<circle cx="416.90" cy="118.40" r="1.4" fill="none" stroke="#2c5282" stroke-width="0.85"/>
<circle cx="416.90" cy="121.70" r="1.4" fill="none" stroke="#2c5282" stroke-width="0.85"/>
<circle cx="416.90" cy="124.90" r="1.4" fill="none" stroke="#2c5282" stroke-width="0.85"/>
<circle cx="416.90" cy="131.70" r="1.4" fill="none" stroke="#2c5282" stroke-width="0.85"/>
<circle cx="421.90" cy="97.40" r="1.4" fill="none" stroke="#2c5282" stroke-width="0.85"/>
<circle cx="421.90" cy="101.60" r="1.4" fill="none" stroke="#2c5282" stroke-width="0.85"/>
<circle cx="421.90" cy="106.80" r="1.4" fill="none" stroke="#2c5282" stroke-width="0.85"/>
<circle cx="421.90" cy="109.70" r="1.4" fill="none" stroke="#2c5282" stroke-width="0.85"/>
<circle cx="421.90" cy="112.30" r="1.4" fill="none" stroke="#2c5282" stroke-width="0.85"/>
<circle cx="421.90" cy="114.40" r="1.4" fill="none" stroke="#2c5282" stroke-width="0.85"/>
<circle cx="421.90" cy="124.40" r="1.4" fill="none" stroke="#2c5282" stroke-width="0.85"/>
<circle cx="421.90" cy="126.40" r="1.4" fill="none" stroke="#2c5282" stroke-width="0.85"/>
<circle cx="421.90" cy="128.50" r="1.4" fill="none" stroke="#2c5282" stroke-width="0.85"/>
<circle cx="421.90" cy="130.60" r="1.4" fill="none" stroke="#2c5282" stroke-width="0.85"/>
<circle cx="421.90" cy="135.90" r="1.4" fill="none" stroke="#2c5282" stroke-width="0.85"/>
<circle cx="426.80" cy="87.50" r="1.4" fill="none" stroke="#2c5282" stroke-width="0.85"/>
<circle cx="426.80" cy="98.70" r="1.4" fill="none" stroke="#2c5282" stroke-width="0.85"/>
<circle cx="426.80" cy="101.60" r="1.4" fill="none" stroke="#2c5282" stroke-width="0.85"/>
<circle cx="426.80" cy="104.50" r="1.4" fill="none" stroke="#2c5282" stroke-width="0.85"/>
<circle cx="426.80" cy="109.20" r="1.4" fill="none" stroke="#2c5282" stroke-width="0.85"/>
<circle cx="426.80" cy="112.30" r="1.4" fill="none" stroke="#2c5282" stroke-width="0.85"/>
<circle cx="426.80" cy="114.90" r="1.4" fill="none" stroke="#2c5282" stroke-width="0.85"/>
<circle cx="426.80" cy="121.70" r="1.4" fill="none" stroke="#2c5282" stroke-width="0.85"/>
<circle cx="426.80" cy="125.90" r="1.4" fill="none" stroke="#2c5282" stroke-width="0.85"/>
<circle cx="426.80" cy="129.10" r="1.4" fill="none" stroke="#2c5282" stroke-width="0.85"/>
<circle cx="426.80" cy="132.70" r="1.4" fill="none" stroke="#2c5282" stroke-width="0.85"/>
<circle cx="426.80" cy="138.00" r="1.4" fill="none" stroke="#2c5282" stroke-width="0.85"/>
<circle cx="426.80" cy="141.10" r="1.4" fill="none" stroke="#2c5282" stroke-width="0.85"/>
<circle cx="426.80" cy="146.80" r="1.4" fill="none" stroke="#2c5282" stroke-width="0.85"/>
<circle cx="429.30" cy="158.60" r="1.4" fill="none" stroke="#2c5282" stroke-width="0.85"/>
<circle cx="434.70" cy="159.50" r="1.4" fill="none" stroke="#2c5282" stroke-width="0.85"/>
<circle cx="431.80" cy="163.40" r="1.4" fill="none" stroke="#2c5282" stroke-width="0.85"/>
<circle cx="431.80" cy="73.40" r="1.4" fill="none" stroke="#2c5282" stroke-width="0.85"/>
<circle cx="431.80" cy="76.70" r="1.4" fill="none" stroke="#2c5282" stroke-width="0.85"/>
<circle cx="431.80" cy="89.30" r="1.4" fill="none" stroke="#2c5282" stroke-width="0.85"/>
<circle cx="431.80" cy="96.40" r="1.4" fill="none" stroke="#2c5282" stroke-width="0.85"/>
<circle cx="431.80" cy="98.50" r="1.4" fill="none" stroke="#2c5282" stroke-width="0.85"/>
<circle cx="431.80" cy="101.10" r="1.4" fill="none" stroke="#2c5282" stroke-width="0.85"/>
<circle cx="431.80" cy="103.90" r="1.4" fill="none" stroke="#2c5282" stroke-width="0.85"/>
<circle cx="431.80" cy="107.10" r="1.4" fill="none" stroke="#2c5282" stroke-width="0.85"/>
<circle cx="431.80" cy="109.70" r="1.4" fill="none" stroke="#2c5282" stroke-width="0.85"/>
<circle cx="431.80" cy="112.30" r="1.4" fill="none" stroke="#2c5282" stroke-width="0.85"/>
<circle cx="431.80" cy="114.90" r="1.4" fill="none" stroke="#2c5282" stroke-width="0.85"/>
<circle cx="431.80" cy="117.60" r="1.4" fill="none" stroke="#2c5282" stroke-width="0.85"/>
<circle cx="431.80" cy="120.70" r="1.4" fill="none" stroke="#2c5282" stroke-width="0.85"/>
<circle cx="431.80" cy="123.30" r="1.4" fill="none" stroke="#2c5282" stroke-width="0.85"/>
<circle cx="431.80" cy="125.90" r="1.4" fill="none" stroke="#2c5282" stroke-width="0.85"/>
<circle cx="431.80" cy="128.50" r="1.4" fill="none" stroke="#2c5282" stroke-width="0.85"/>
<circle cx="431.80" cy="130.60" r="1.4" fill="none" stroke="#2c5282" stroke-width="0.85"/>
<circle cx="431.80" cy="133.80" r="1.4" fill="none" stroke="#2c5282" stroke-width="0.85"/>
<circle cx="431.80" cy="136.40" r="1.4" fill="none" stroke="#2c5282" stroke-width="0.85"/>
<circle cx="431.80" cy="139.00" r="1.4" fill="none" stroke="#2c5282" stroke-width="0.85"/>
<circle cx="431.80" cy="145.30" r="1.4" fill="none" stroke="#2c5282" stroke-width="0.85"/>
<circle cx="431.80" cy="153.10" r="1.4" fill="none" stroke="#2c5282" stroke-width="0.85"/>
<circle cx="436.80" cy="99.00" r="1.4" fill="none" stroke="#2c5282" stroke-width="0.85"/>
<circle cx="436.80" cy="111.30" r="1.4" fill="none" stroke="#2c5282" stroke-width="0.85"/>
<circle cx="436.80" cy="114.90" r="1.4" fill="none" stroke="#2c5282" stroke-width="0.85"/>
<circle cx="436.80" cy="121.70" r="1.4" fill="none" stroke="#2c5282" stroke-width="0.85"/>
<circle cx="436.80" cy="124.40" r="1.4" fill="none" stroke="#2c5282" stroke-width="0.85"/>
<circle cx="436.80" cy="127.00" r="1.4" fill="none" stroke="#2c5282" stroke-width="0.85"/>
<circle cx="436.80" cy="138.50" r="1.4" fill="none" stroke="#2c5282" stroke-width="0.85"/>
<circle cx="436.80" cy="145.80" r="1.4" fill="none" stroke="#2c5282" stroke-width="0.85"/>
<circle cx="441.80" cy="97.40" r="1.4" fill="none" stroke="#2c5282" stroke-width="0.85"/>
<circle cx="441.80" cy="103.70" r="1.4" fill="none" stroke="#2c5282" stroke-width="0.85"/>
<circle cx="441.80" cy="106.80" r="1.4" fill="none" stroke="#2c5282" stroke-width="0.85"/>
<circle cx="441.80" cy="109.70" r="1.4" fill="none" stroke="#2c5282" stroke-width="0.85"/>
<circle cx="441.80" cy="112.30" r="1.4" fill="none" stroke="#2c5282" stroke-width="0.85"/>
<circle cx="441.80" cy="114.40" r="1.4" fill="none" stroke="#2c5282" stroke-width="0.85"/>
<circle cx="441.80" cy="122.30" r="1.4" fill="none" stroke="#2c5282" stroke-width="0.85"/>
<circle cx="441.80" cy="125.40" r="1.4" fill="none" stroke="#2c5282" stroke-width="0.85"/>
<circle cx="441.80" cy="132.20" r="1.4" fill="none" stroke="#2c5282" stroke-width="0.85"/>
<circle cx="441.80" cy="136.40" r="1.4" fill="none" stroke="#2c5282" stroke-width="0.85"/>
<circle cx="441.80" cy="144.20" r="1.4" fill="none" stroke="#2c5282" stroke-width="0.85"/>
<circle cx="446.70" cy="108.70" r="1.4" fill="none" stroke="#2c5282" stroke-width="0.85"/>
<circle cx="446.70" cy="113.90" r="1.4" fill="none" stroke="#2c5282" stroke-width="0.85"/>
<circle cx="446.70" cy="119.60" r="1.4" fill="none" stroke="#2c5282" stroke-width="0.85"/>
<circle cx="446.70" cy="123.80" r="1.4" fill="none" stroke="#2c5282" stroke-width="0.85"/>
<circle cx="446.70" cy="132.20" r="1.4" fill="none" stroke="#2c5282" stroke-width="0.85"/>
<line x1="415.55" y1="120.50" x2="448.05" y2="120.50" stroke="#1a1a1a" stroke-width="1.1"/>
<line x1="425.00" y1="108.80" x2="438.60" y2="108.80" stroke="#1a1a1a" stroke-width="0.8"/>
<line x1="425.00" y1="132.40" x2="438.60" y2="132.40" stroke="#1a1a1a" stroke-width="0.8"/>
<line x1="431.80" y1="108.80" x2="431.80" y2="132.40" stroke="#1a1a1a" stroke-width="0.8"/>
<circle cx="480.40" cy="80.80" r="1.6" fill="#b40d2d"/>
<circle cx="480.40" cy="87.60" r="1.6" fill="#b40d2d"/>
<circle cx="480.40" cy="95.90" r="1.6" fill="#b40d2d"/>
<circle cx="476.60" cy="98.50" r="1.6" fill="#b40d2d"/>
<circle cx="484.20" cy="98.20" r="1.6" fill="#b40d2d"/>
<circle cx="476.60" cy="103.00" r="1.6" fill="#b40d2d"/>
<circle cx="484.20" cy="104.30" r="1.6" fill="#b40d2d"/>
<circle cx="476.60" cy="106.90" r="1.6" fill="#b40d2d"/>
<circle cx="480.40" cy="106.40" r="1.6" fill="#b40d2d"/>
<circle cx="473.00" cy="111.10" r="1.6" fill="#b40d2d"/>
<circle cx="476.60" cy="110.00" r="1.6" fill="#b40d2d"/>
<circle cx="480.40" cy="110.60" r="1.6" fill="#b40d2d"/>
<circle cx="484.20" cy="109.50" r="1.6" fill="#b40d2d"/>
<circle cx="487.90" cy="111.10" r="1.6" fill="#b40d2d"/>
<circle cx="476.60" cy="112.70" r="1.6" fill="#b40d2d"/>
<circle cx="484.20" cy="112.70" r="1.6" fill="#b40d2d"/>
<circle cx="476.90" cy="116.60" r="1.6" fill="#b40d2d"/>
<circle cx="480.80" cy="115.50" r="1.6" fill="#b40d2d"/>
<circle cx="484.50" cy="116.00" r="1.6" fill="#b40d2d"/>
<circle cx="476.90" cy="119.00" r="1.6" fill="#b40d2d"/>
<circle cx="480.80" cy="119.00" r="1.6" fill="#b40d2d"/>
<circle cx="484.50" cy="119.00" r="1.6" fill="#b40d2d"/>
<circle cx="480.80" cy="122.30" r="1.6" fill="#b40d2d"/>
<circle cx="469.30" cy="126.00" r="1.6" fill="#b40d2d"/>
<circle cx="473.00" cy="127.00" r="1.6" fill="#b40d2d"/>
<circle cx="476.90" cy="127.60" r="1.6" fill="#b40d2d"/>
<circle cx="484.50" cy="126.50" r="1.6" fill="#b40d2d"/>
<circle cx="488.20" cy="125.50" r="1.6" fill="#b40d2d"/>
<circle cx="492.10" cy="124.90" r="1.6" fill="#b40d2d"/>
<circle cx="480.80" cy="128.60" r="1.6" fill="#b40d2d"/>
<circle cx="469.30" cy="131.00" r="1.6" fill="#b40d2d"/>
<circle cx="473.00" cy="131.00" r="1.6" fill="#b40d2d"/>
<circle cx="476.90" cy="131.00" r="1.6" fill="#b40d2d"/>
<circle cx="480.80" cy="131.00" r="1.6" fill="#b40d2d"/>
<circle cx="484.50" cy="131.00" r="1.6" fill="#b40d2d"/>
<circle cx="488.20" cy="131.00" r="1.6" fill="#b40d2d"/>
<circle cx="492.10" cy="131.00" r="1.6" fill="#b40d2d"/>
<circle cx="469.30" cy="134.00" r="1.6" fill="#b40d2d"/>
<circle cx="473.00" cy="134.00" r="1.6" fill="#b40d2d"/>
<circle cx="476.90" cy="134.00" r="1.6" fill="#b40d2d"/>
<circle cx="480.80" cy="134.00" r="1.6" fill="#b40d2d"/>
<circle cx="484.50" cy="134.00" r="1.6" fill="#b40d2d"/>
<circle cx="488.20" cy="134.00" r="1.6" fill="#b40d2d"/>
<circle cx="492.10" cy="134.00" r="1.6" fill="#b40d2d"/>
<circle cx="473.00" cy="136.50" r="1.6" fill="#b40d2d"/>
<circle cx="476.90" cy="136.50" r="1.6" fill="#b40d2d"/>
<circle cx="484.50" cy="136.50" r="1.6" fill="#b40d2d"/>
<circle cx="488.20" cy="136.50" r="1.6" fill="#b40d2d"/>
<circle cx="473.00" cy="138.50" r="1.6" fill="#b40d2d"/>
<circle cx="476.90" cy="138.50" r="1.6" fill="#b40d2d"/>
<circle cx="480.80" cy="138.50" r="1.6" fill="#b40d2d"/>
<circle cx="488.20" cy="138.50" r="1.6" fill="#b40d2d"/>
<circle cx="492.10" cy="138.50" r="1.6" fill="#b40d2d"/>
<circle cx="495.50" cy="138.50" r="1.6" fill="#b40d2d"/>
<circle cx="465.40" cy="141.50" r="1.6" fill="#b40d2d"/>
<circle cx="469.30" cy="141.50" r="1.6" fill="#b40d2d"/>
<circle cx="473.00" cy="141.50" r="1.6" fill="#b40d2d"/>
<circle cx="476.90" cy="141.50" r="1.6" fill="#b40d2d"/>
<circle cx="480.80" cy="141.50" r="1.6" fill="#b40d2d"/>
<circle cx="484.50" cy="141.50" r="1.6" fill="#b40d2d"/>
<circle cx="488.20" cy="141.50" r="1.6" fill="#b40d2d"/>
<circle cx="492.10" cy="141.50" r="1.6" fill="#b40d2d"/>
<circle cx="495.50" cy="141.50" r="1.6" fill="#b40d2d"/>
<circle cx="476.90" cy="144.30" r="1.6" fill="#b40d2d"/>
<circle cx="480.80" cy="146.40" r="1.6" fill="#b40d2d"/>
<circle cx="473.00" cy="152.10" r="1.6" fill="#b40d2d"/>
<circle cx="476.90" cy="150.60" r="1.6" fill="#b40d2d"/>
<circle cx="484.50" cy="150.60" r="1.6" fill="#b40d2d"/>
<circle cx="476.90" cy="154.70" r="1.6" fill="#b40d2d"/>
<circle cx="480.80" cy="152.70" r="1.6" fill="#b40d2d"/>
<circle cx="480.80" cy="155.30" r="1.6" fill="#b40d2d"/>
<circle cx="476.90" cy="157.90" r="1.6" fill="#b40d2d"/>
<circle cx="484.50" cy="157.40" r="1.6" fill="#b40d2d"/>
<line x1="464.40" y1="131.20" x2="496.80" y2="131.20" stroke="#1a1a1a" stroke-width="1.1"/>
<line x1="472.90" y1="115.60" x2="488.30" y2="115.60" stroke="#1a1a1a" stroke-width="0.8"/>
<line x1="472.90" y1="141.20" x2="488.30" y2="141.20" stroke="#1a1a1a" stroke-width="0.8"/>
<line x1="480.60" y1="115.60" x2="480.60" y2="141.20" stroke="#1a1a1a" stroke-width="0.8"/>
<line x1="431.80" y1="32.30" x2="480.30" y2="32.30" stroke="#474747" stroke-width="1.0"/>
<line x1="431.80" y1="31.80" x2="431.80" y2="63.30" stroke="#474747" stroke-width="1.0"/>
<line x1="480.30" y1="31.80" x2="480.30" y2="78.40" stroke="#474747" stroke-width="1.0"/>
<text x="456.10" y="31.60" font-size="7.6" text-anchor="middle" font-weight="bold" fill="#2a2a2a" stroke="#2a2a2a" stroke-width="0.15" font-family="Liberation Sans, sans-serif" >**</text>
<line x1="135.60" y1="260.40" x2="135.60" y2="439.50" stroke="#3e3e3e" stroke-width="1.15"/>
<line x1="132.60" y1="436.70" x2="135.60" y2="436.70" stroke="#3e3e3e" stroke-width="1.15"/>
<text x="129.40" y="439.58" font-size="8.0" text-anchor="end" font-weight="normal" fill="#2a2a2a" stroke="#2a2a2a" stroke-width="0.2" font-family="Liberation Sans, sans-serif" >0</text>
<line x1="132.60" y1="378.80" x2="135.60" y2="378.80" stroke="#3e3e3e" stroke-width="1.15"/>
<text x="129.40" y="381.68" font-size="8.0" text-anchor="end" font-weight="normal" fill="#2a2a2a" stroke="#2a2a2a" stroke-width="0.2" font-family="Liberation Sans, sans-serif" >50</text>
<line x1="132.60" y1="320.90" x2="135.60" y2="320.90" stroke="#3e3e3e" stroke-width="1.15"/>
<text x="129.40" y="323.78" font-size="8.0" text-anchor="end" font-weight="normal" fill="#2a2a2a" stroke="#2a2a2a" stroke-width="0.2" font-family="Liberation Sans, sans-serif" >100</text>
<line x1="132.60" y1="263.00" x2="135.60" y2="263.00" stroke="#3e3e3e" stroke-width="1.15"/>
<text x="129.40" y="265.88" font-size="8.0" text-anchor="end" font-weight="normal" fill="#2a2a2a" stroke="#2a2a2a" stroke-width="0.2" font-family="Liberation Sans, sans-serif" >150</text>
<line x1="143.40" y1="444.50" x2="257.40" y2="444.50" stroke="#3e3e3e" stroke-width="1.15"/>
<line x1="175.80" y1="444.50" x2="175.80" y2="447.10" stroke="#3e3e3e" stroke-width="1.15"/>
<text x="175.80" y="456.40" font-size="8.0" text-anchor="middle" font-weight="normal" fill="#2a2a2a" stroke="#2a2a2a" stroke-width="0.2" font-family="Liberation Sans, sans-serif" >HC</text>
<line x1="224.60" y1="444.50" x2="224.60" y2="447.10" stroke="#3e3e3e" stroke-width="1.15"/>
<text x="224.60" y="456.40" font-size="8.0" text-anchor="middle" font-weight="normal" fill="#2a2a2a" stroke="#2a2a2a" stroke-width="0.2" font-family="Liberation Sans, sans-serif" >BT</text>
<text transform="translate(108.60,352.00) rotate(-90) scale(0.8,1)" x="0" y="2.87" font-size="8.2" text-anchor="middle" fill="#2a2a2a" stroke="#2a2a2a" stroke-width="0.3" font-family="Liberation Sans, sans-serif">Velocity index (nM/min)</text>
<circle cx="174.10" cy="319.90" r="1.4" fill="none" stroke="#2c5282" stroke-width="0.85"/>
<circle cx="178.00" cy="318.20" r="1.4" fill="none" stroke="#2c5282" stroke-width="0.85"/>
<circle cx="175.80" cy="333.20" r="1.4" fill="none" stroke="#2c5282" stroke-width="0.85"/>
<circle cx="175.80" cy="340.90" r="1.4" fill="none" stroke="#2c5282" stroke-width="0.85"/>
<circle cx="172.00" cy="344.00" r="1.4" fill="none" stroke="#2c5282" stroke-width="0.85"/>
<circle cx="179.80" cy="344.50" r="1.4" fill="none" stroke="#2c5282" stroke-width="0.85"/>
<circle cx="172.50" cy="348.20" r="1.4" fill="none" stroke="#2c5282" stroke-width="0.85"/>
<circle cx="176.20" cy="347.10" r="1.4" fill="none" stroke="#2c5282" stroke-width="0.85"/>
<circle cx="179.80" cy="349.70" r="1.4" fill="none" stroke="#2c5282" stroke-width="0.85"/>
<circle cx="175.80" cy="351.80" r="1.4" fill="none" stroke="#2c5282" stroke-width="0.85"/>
<circle cx="172.50" cy="354.20" r="1.4" fill="none" stroke="#2c5282" stroke-width="0.85"/>
<circle cx="164.60" cy="357.00" r="1.4" fill="none" stroke="#2c5282" stroke-width="0.85"/>
<circle cx="168.30" cy="357.00" r="1.4" fill="none" stroke="#2c5282" stroke-width="0.85"/>
<circle cx="172.00" cy="357.00" r="1.4" fill="none" stroke="#2c5282" stroke-width="0.85"/>
<circle cx="176.20" cy="357.00" r="1.4" fill="none" stroke="#2c5282" stroke-width="0.85"/>
<circle cx="183.50" cy="357.00" r="1.4" fill="none" stroke="#2c5282" stroke-width="0.85"/>
<circle cx="187.10" cy="357.00" r="1.4" fill="none" stroke="#2c5282" stroke-width="0.85"/>
<circle cx="168.30" cy="360.80" r="1.4" fill="none" stroke="#2c5282" stroke-width="0.85"/>
<circle cx="172.00" cy="360.80" r="1.4" fill="none" stroke="#2c5282" stroke-width="0.85"/>
<circle cx="175.60" cy="360.80" r="1.4" fill="none" stroke="#2c5282" stroke-width="0.85"/>
<circle cx="179.80" cy="360.80" r="1.4" fill="none" stroke="#2c5282" stroke-width="0.85"/>
<circle cx="183.50" cy="360.80" r="1.4" fill="none" stroke="#2c5282" stroke-width="0.85"/>
<circle cx="164.60" cy="363.60" r="1.4" fill="none" stroke="#2c5282" stroke-width="0.85"/>
<circle cx="168.30" cy="363.60" r="1.4" fill="none" stroke="#2c5282" stroke-width="0.85"/>
<circle cx="172.00" cy="363.60" r="1.4" fill="none" stroke="#2c5282" stroke-width="0.85"/>
<circle cx="176.20" cy="363.60" r="1.4" fill="none" stroke="#2c5282" stroke-width="0.85"/>
<circle cx="179.80" cy="363.60" r="1.4" fill="none" stroke="#2c5282" stroke-width="0.85"/>
<circle cx="183.50" cy="363.60" r="1.4" fill="none" stroke="#2c5282" stroke-width="0.85"/>
<circle cx="187.10" cy="363.60" r="1.4" fill="none" stroke="#2c5282" stroke-width="0.85"/>
<circle cx="161.00" cy="366.20" r="1.4" fill="none" stroke="#2c5282" stroke-width="0.85"/>
<circle cx="164.60" cy="366.20" r="1.4" fill="none" stroke="#2c5282" stroke-width="0.85"/>
<circle cx="168.30" cy="366.20" r="1.4" fill="none" stroke="#2c5282" stroke-width="0.85"/>
<circle cx="172.00" cy="366.20" r="1.4" fill="none" stroke="#2c5282" stroke-width="0.85"/>
<circle cx="176.20" cy="366.20" r="1.4" fill="none" stroke="#2c5282" stroke-width="0.85"/>
<circle cx="179.80" cy="366.20" r="1.4" fill="none" stroke="#2c5282" stroke-width="0.85"/>
<circle cx="183.50" cy="366.20" r="1.4" fill="none" stroke="#2c5282" stroke-width="0.85"/>
<circle cx="187.10" cy="366.20" r="1.4" fill="none" stroke="#2c5282" stroke-width="0.85"/>
<circle cx="190.80" cy="366.20" r="1.4" fill="none" stroke="#2c5282" stroke-width="0.85"/>
<circle cx="168.30" cy="370.20" r="1.4" fill="none" stroke="#2c5282" stroke-width="0.85"/>
<circle cx="172.00" cy="370.20" r="1.4" fill="none" stroke="#2c5282" stroke-width="0.85"/>
<circle cx="176.20" cy="370.20" r="1.4" fill="none" stroke="#2c5282" stroke-width="0.85"/>
<circle cx="179.80" cy="370.20" r="1.4" fill="none" stroke="#2c5282" stroke-width="0.85"/>
<circle cx="183.50" cy="370.20" r="1.4" fill="none" stroke="#2c5282" stroke-width="0.85"/>
<circle cx="172.00" cy="372.60" r="1.4" fill="none" stroke="#2c5282" stroke-width="0.85"/>
<circle cx="175.60" cy="372.60" r="1.4" fill="none" stroke="#2c5282" stroke-width="0.85"/>
<circle cx="172.00" cy="375.00" r="1.4" fill="none" stroke="#2c5282" stroke-width="0.85"/>
<circle cx="176.20" cy="375.00" r="1.4" fill="none" stroke="#2c5282" stroke-width="0.85"/>
<circle cx="168.30" cy="378.10" r="1.4" fill="none" stroke="#2c5282" stroke-width="0.85"/>
<circle cx="172.00" cy="378.10" r="1.4" fill="none" stroke="#2c5282" stroke-width="0.85"/>
<circle cx="175.60" cy="378.10" r="1.4" fill="none" stroke="#2c5282" stroke-width="0.85"/>
<circle cx="179.80" cy="378.10" r="1.4" fill="none" stroke="#2c5282" stroke-width="0.85"/>
<circle cx="183.50" cy="378.10" r="1.4" fill="none" stroke="#2c5282" stroke-width="0.85"/>
<circle cx="172.00" cy="380.90" r="1.4" fill="none" stroke="#2c5282" stroke-width="0.85"/>
<circle cx="176.20" cy="380.90" r="1.4" fill="none" stroke="#2c5282" stroke-width="0.85"/>
<circle cx="179.80" cy="380.90" r="1.4" fill="none" stroke="#2c5282" stroke-width="0.85"/>
<circle cx="183.50" cy="380.90" r="1.4" fill="none" stroke="#2c5282" stroke-width="0.85"/>
<circle cx="172.00" cy="383.50" r="1.4" fill="none" stroke="#2c5282" stroke-width="0.85"/>
<circle cx="176.20" cy="383.50" r="1.4" fill="none" stroke="#2c5282" stroke-width="0.85"/>
<circle cx="179.80" cy="387.00" r="1.4" fill="none" stroke="#2c5282" stroke-width="0.85"/>
<circle cx="183.50" cy="387.00" r="1.4" fill="none" stroke="#2c5282" stroke-width="0.85"/>
<circle cx="187.10" cy="387.00" r="1.4" fill="none" stroke="#2c5282" stroke-width="0.85"/>
<circle cx="168.30" cy="389.30" r="1.4" fill="none" stroke="#2c5282" stroke-width="0.85"/>
<circle cx="172.00" cy="389.30" r="1.4" fill="none" stroke="#2c5282" stroke-width="0.85"/>
<circle cx="176.20" cy="389.30" r="1.4" fill="none" stroke="#2c5282" stroke-width="0.85"/>
<circle cx="172.00" cy="391.80" r="1.4" fill="none" stroke="#2c5282" stroke-width="0.85"/>
<circle cx="175.60" cy="391.80" r="1.4" fill="none" stroke="#2c5282" stroke-width="0.85"/>
<circle cx="168.30" cy="394.20" r="1.4" fill="none" stroke="#2c5282" stroke-width="0.85"/>
<circle cx="172.00" cy="394.20" r="1.4" fill="none" stroke="#2c5282" stroke-width="0.85"/>
<circle cx="176.20" cy="394.20" r="1.4" fill="none" stroke="#2c5282" stroke-width="0.85"/>
<circle cx="179.80" cy="394.20" r="1.4" fill="none" stroke="#2c5282" stroke-width="0.85"/>
<circle cx="183.50" cy="394.20" r="1.4" fill="none" stroke="#2c5282" stroke-width="0.85"/>
<circle cx="175.60" cy="400.50" r="1.4" fill="none" stroke="#2c5282" stroke-width="0.85"/>
<circle cx="175.60" cy="404.60" r="1.4" fill="none" stroke="#2c5282" stroke-width="0.85"/>
<circle cx="179.80" cy="404.60" r="1.4" fill="none" stroke="#2c5282" stroke-width="0.85"/>
<circle cx="175.60" cy="407.80" r="1.4" fill="none" stroke="#2c5282" stroke-width="0.85"/>
<circle cx="179.80" cy="407.30" r="1.4" fill="none" stroke="#2c5282" stroke-width="0.85"/>
<circle cx="175.60" cy="415.60" r="1.4" fill="none" stroke="#2c5282" stroke-width="0.85"/>
<circle cx="175.60" cy="419.80" r="1.4" fill="none" stroke="#2c5282" stroke-width="0.85"/>
<line x1="160.15" y1="368.40" x2="191.45" y2="368.40" stroke="#1a1a1a" stroke-width="1.1"/>
<line x1="167.50" y1="358.30" x2="184.10" y2="358.30" stroke="#1a1a1a" stroke-width="0.8"/>
<line x1="167.50" y1="387.10" x2="184.10" y2="387.10" stroke="#1a1a1a" stroke-width="0.8"/>
<line x1="175.80" y1="358.30" x2="175.80" y2="387.10" stroke="#1a1a1a" stroke-width="0.8"/>
<circle cx="224.40" cy="331.30" r="1.6" fill="#b40d2d"/>
<circle cx="222.30" cy="342.30" r="1.6" fill="#b40d2d"/>
<circle cx="226.70" cy="344.00" r="1.6" fill="#b40d2d"/>
<circle cx="218.10" cy="348.00" r="1.6" fill="#b40d2d"/>
<circle cx="222.30" cy="346.80" r="1.6" fill="#b40d2d"/>
<circle cx="222.30" cy="349.60" r="1.6" fill="#b40d2d"/>
<circle cx="226.70" cy="347.50" r="1.6" fill="#b40d2d"/>
<circle cx="213.90" cy="353.00" r="1.6" fill="#b40d2d"/>
<circle cx="213.90" cy="355.30" r="1.6" fill="#b40d2d"/>
<circle cx="218.10" cy="354.80" r="1.6" fill="#b40d2d"/>
<circle cx="226.70" cy="354.60" r="1.6" fill="#b40d2d"/>
<circle cx="230.90" cy="354.60" r="1.6" fill="#b40d2d"/>
<circle cx="235.30" cy="354.60" r="1.6" fill="#b40d2d"/>
<circle cx="222.30" cy="359.50" r="1.6" fill="#b40d2d"/>
<circle cx="226.70" cy="358.70" r="1.6" fill="#b40d2d"/>
<circle cx="218.10" cy="362.30" r="1.6" fill="#b40d2d"/>
<circle cx="222.30" cy="362.30" r="1.6" fill="#b40d2d"/>
<circle cx="226.70" cy="362.30" r="1.6" fill="#b40d2d"/>
<circle cx="230.90" cy="362.30" r="1.6" fill="#b40d2d"/>
<circle cx="222.30" cy="366.60" r="1.6" fill="#b40d2d"/>
<circle cx="222.30" cy="369.20" r="1.6" fill="#b40d2d"/>
<circle cx="222.30" cy="377.60" r="1.6" fill="#b40d2d"/>
<circle cx="222.30" cy="385.90" r="1.6" fill="#b40d2d"/>
<circle cx="222.30" cy="392.20" r="1.6" fill="#b40d2d"/>
<circle cx="222.30" cy="396.40" r="1.6" fill="#b40d2d"/>
<circle cx="222.30" cy="399.50" r="1.6" fill="#b40d2d"/>
<circle cx="222.30" cy="402.90" r="1.6" fill="#b40d2d"/>
<circle cx="222.30" cy="406.30" r="1.6" fill="#b40d2d"/>
<circle cx="218.10" cy="369.70" r="1.6" fill="#b40d2d"/>
<circle cx="218.10" cy="376.00" r="1.6" fill="#b40d2d"/>
<circle cx="218.10" cy="382.30" r="1.6" fill="#b40d2d"/>
<circle cx="218.10" cy="388.50" r="1.6" fill="#b40d2d"/>
<circle cx="218.10" cy="392.70" r="1.6" fill="#b40d2d"/>
<circle cx="218.10" cy="395.90" r="1.6" fill="#b40d2d"/>
<circle cx="218.10" cy="399.00" r="1.6" fill="#b40d2d"/>
<circle cx="226.70" cy="369.70" r="1.6" fill="#b40d2d"/>
<circle cx="226.70" cy="372.30" r="1.6" fill="#b40d2d"/>
<circle cx="226.70" cy="375.50" r="1.6" fill="#b40d2d"/>
<circle cx="226.70" cy="378.60" r="1.6" fill="#b40d2d"/>
<circle cx="226.70" cy="384.40" r="1.6" fill="#b40d2d"/>
<circle cx="226.70" cy="387.50" r="1.6" fill="#b40d2d"/>
<circle cx="226.70" cy="390.10" r="1.6" fill="#b40d2d"/>
<circle cx="226.70" cy="393.20" r="1.6" fill="#b40d2d"/>
<circle cx="226.70" cy="395.90" r="1.6" fill="#b40d2d"/>
<circle cx="226.70" cy="398.50" r="1.6" fill="#b40d2d"/>
<circle cx="226.70" cy="401.10" r="1.6" fill="#b40d2d"/>
<circle cx="226.70" cy="404.20" r="1.6" fill="#b40d2d"/>
<circle cx="226.70" cy="407.40" r="1.6" fill="#b40d2d"/>
<circle cx="230.90" cy="368.70" r="1.6" fill="#b40d2d"/>
<circle cx="230.90" cy="371.30" r="1.6" fill="#b40d2d"/>
<circle cx="230.90" cy="373.90" r="1.6" fill="#b40d2d"/>
<circle cx="230.90" cy="381.70" r="1.6" fill="#b40d2d"/>
<circle cx="230.90" cy="387.00" r="1.6" fill="#b40d2d"/>
<circle cx="230.90" cy="392.70" r="1.6" fill="#b40d2d"/>
<circle cx="230.90" cy="395.90" r="1.6" fill="#b40d2d"/>
<circle cx="230.90" cy="399.00" r="1.6" fill="#b40d2d"/>
<circle cx="230.90" cy="401.60" r="1.6" fill="#b40d2d"/>
<circle cx="213.90" cy="386.40" r="1.6" fill="#b40d2d"/>
<circle cx="213.90" cy="393.20" r="1.6" fill="#b40d2d"/>
<circle cx="213.90" cy="397.40" r="1.6" fill="#b40d2d"/>
<circle cx="235.30" cy="385.90" r="1.6" fill="#b40d2d"/>
<circle cx="235.30" cy="392.70" r="1.6" fill="#b40d2d"/>
<circle cx="235.30" cy="396.90" r="1.6" fill="#b40d2d"/>
<circle cx="209.70" cy="392.20" r="1.6" fill="#b40d2d"/>
<circle cx="239.40" cy="393.20" r="1.6" fill="#b40d2d"/>
<circle cx="224.40" cy="410.30" r="1.6" fill="#b40d2d"/>
<circle cx="224.40" cy="413.10" r="1.6" fill="#b40d2d"/>
<circle cx="224.40" cy="432.60" r="1.6" fill="#b40d2d"/>
<line x1="208.20" y1="385.20" x2="240.80" y2="385.20" stroke="#1a1a1a" stroke-width="1.1"/>
<line x1="217.50" y1="362.10" x2="231.50" y2="362.10" stroke="#1a1a1a" stroke-width="0.8"/>
<line x1="217.50" y1="395.30" x2="231.50" y2="395.30" stroke="#1a1a1a" stroke-width="0.8"/>
<line x1="224.50" y1="362.10" x2="224.50" y2="395.30" stroke="#1a1a1a" stroke-width="0.8"/>
<line x1="175.90" y1="272.50" x2="224.50" y2="272.50" stroke="#474747" stroke-width="1.0"/>
<line x1="175.90" y1="272.00" x2="175.90" y2="307.10" stroke="#474747" stroke-width="1.0"/>
<line x1="224.50" y1="272.00" x2="224.50" y2="328.10" stroke="#474747" stroke-width="1.0"/>
<text x="200.30" y="272.00" font-size="7.6" text-anchor="middle" font-weight="bold" fill="#2a2a2a" stroke="#2a2a2a" stroke-width="0.15" font-family="Liberation Sans, sans-serif" >*</text>
<line x1="313.90" y1="258.61" x2="313.90" y2="435.80" stroke="#3e3e3e" stroke-width="1.15"/>
<line x1="310.90" y1="433.20" x2="313.90" y2="433.20" stroke="#3e3e3e" stroke-width="1.15"/>
<text x="308.20" y="436.08" font-size="8.0" text-anchor="end" font-weight="normal" fill="#2a2a2a" stroke="#2a2a2a" stroke-width="0.2" font-family="Liberation Sans, sans-serif" >0</text>
<line x1="310.90" y1="375.87" x2="313.90" y2="375.87" stroke="#3e3e3e" stroke-width="1.15"/>
<text x="308.20" y="378.75" font-size="8.0" text-anchor="end" font-weight="normal" fill="#2a2a2a" stroke="#2a2a2a" stroke-width="0.2" font-family="Liberation Sans, sans-serif" >100</text>
<line x1="310.90" y1="318.54" x2="313.90" y2="318.54" stroke="#3e3e3e" stroke-width="1.15"/>
<text x="308.20" y="321.42" font-size="8.0" text-anchor="end" font-weight="normal" fill="#2a2a2a" stroke="#2a2a2a" stroke-width="0.2" font-family="Liberation Sans, sans-serif" >200</text>
<line x1="310.90" y1="261.21" x2="313.90" y2="261.21" stroke="#3e3e3e" stroke-width="1.15"/>
<text x="308.20" y="264.09" font-size="8.0" text-anchor="end" font-weight="normal" fill="#2a2a2a" stroke="#2a2a2a" stroke-width="0.2" font-family="Liberation Sans, sans-serif" >300</text>
<line x1="322.60" y1="444.40" x2="427.30" y2="444.40" stroke="#3e3e3e" stroke-width="1.15"/>
<line x1="325.30" y1="444.40" x2="325.30" y2="447.30" stroke="#3e3e3e" stroke-width="1.15"/>
<line x1="345.10" y1="444.40" x2="345.10" y2="447.30" stroke="#3e3e3e" stroke-width="1.15"/>
<text x="345.10" y="457.00" font-size="8.0" text-anchor="middle" font-weight="normal" fill="#2a2a2a" stroke="#2a2a2a" stroke-width="0.2" font-family="Liberation Sans, sans-serif" >1</text>
<line x1="384.60" y1="444.40" x2="384.60" y2="447.30" stroke="#3e3e3e" stroke-width="1.15"/>
<text x="384.60" y="457.00" font-size="8.0" text-anchor="middle" font-weight="normal" fill="#2a2a2a" stroke="#2a2a2a" stroke-width="0.2" font-family="Liberation Sans, sans-serif" >2</text>
<line x1="424.40" y1="444.40" x2="424.40" y2="447.30" stroke="#3e3e3e" stroke-width="1.15"/>
<text x="424.40" y="457.00" font-size="8.0" text-anchor="middle" font-weight="normal" fill="#2a2a2a" stroke="#2a2a2a" stroke-width="0.2" font-family="Liberation Sans, sans-serif" >3</text>
<text transform="translate(370.60,466.00) scale(0.8,1)" x="0" y="2.87" font-size="8.2" text-anchor="middle" fill="#2a2a2a" stroke="#2a2a2a" stroke-width="0.3" font-family="Liberation Sans, sans-serif">FVIII:C (IU/ml)</text>
<text transform="translate(287.00,351.40) rotate(-90) scale(0.8,1)" x="0" y="2.87" font-size="8.2" text-anchor="middle" fill="#2a2a2a" stroke="#2a2a2a" stroke-width="0.3" font-family="Liberation Sans, sans-serif">Peak thrombin (nM)</text>
<text x="364.00" y="265.60" font-size="7.5" text-anchor="start" font-weight="normal" fill="#2a2a2a" stroke="#2a2a2a" stroke-width="0.2" font-family="Liberation Sans, sans-serif" >r =</text>
<text x="376.00" y="265.60" font-size="7.5" text-anchor="start" font-weight="normal" fill="#2a2a2a" stroke="#2a2a2a" stroke-width="0.2" font-family="Liberation Sans, sans-serif" letter-spacing="0.35">0.47</text>
<text x="364.00" y="276.90" font-size="7.6" text-anchor="start" font-weight="normal" fill="#2a2a2a" stroke="#2a2a2a" stroke-width="0.2" font-family="Liberation Sans, sans-serif" ><tspan font-style="italic">P</tspan> &lt; .0001</text>
<circle cx="369.80" cy="286.30" r="1.95" fill="#b40d2d"/>
<circle cx="369.80" cy="288.70" r="1.95" fill="#b40d2d"/>
<circle cx="341.50" cy="306.80" r="1.95" fill="#b40d2d"/>
<circle cx="351.90" cy="308.00" r="1.95" fill="#b40d2d"/>
<circle cx="349.00" cy="311.20" r="1.95" fill="#b40d2d"/>
<circle cx="345.90" cy="314.60" r="1.95" fill="#b40d2d"/>
<circle cx="365.20" cy="303.40" r="1.95" fill="#b40d2d"/>
<circle cx="366.30" cy="308.50" r="1.95" fill="#b40d2d"/>
<circle cx="349.00" cy="319.80" r="1.95" fill="#b40d2d"/>
<circle cx="344.80" cy="322.90" r="1.95" fill="#b40d2d"/>
<circle cx="357.10" cy="318.10" r="1.95" fill="#b40d2d"/>
<circle cx="359.40" cy="315.50" r="1.95" fill="#b40d2d"/>
<circle cx="361.70" cy="316.70" r="1.95" fill="#b40d2d"/>
<circle cx="364.40" cy="316.70" r="1.95" fill="#b40d2d"/>
<circle cx="371.50" cy="316.70" r="1.95" fill="#b40d2d"/>
<circle cx="373.30" cy="320.20" r="1.95" fill="#b40d2d"/>
<circle cx="368.10" cy="321.50" r="1.95" fill="#b40d2d"/>
<circle cx="371.00" cy="323.80" r="1.95" fill="#b40d2d"/>
<circle cx="358.80" cy="324.10" r="1.95" fill="#b40d2d"/>
<circle cx="350.80" cy="328.20" r="1.95" fill="#b40d2d"/>
<circle cx="354.80" cy="326.70" r="1.95" fill="#b40d2d"/>
<circle cx="356.00" cy="328.20" r="1.95" fill="#b40d2d"/>
<circle cx="401.30" cy="285.60" r="1.95" fill="#b40d2d"/>
<circle cx="393.10" cy="299.40" r="1.95" fill="#b40d2d"/>
<circle cx="398.80" cy="300.30" r="1.95" fill="#b40d2d"/>
<circle cx="406.30" cy="298.80" r="1.95" fill="#b40d2d"/>
<circle cx="417.10" cy="300.90" r="1.95" fill="#b40d2d"/>
<circle cx="377.80" cy="301.50" r="1.95" fill="#b40d2d"/>
<circle cx="377.80" cy="304.40" r="1.95" fill="#b40d2d"/>
<circle cx="382.50" cy="305.60" r="1.95" fill="#b40d2d"/>
<circle cx="390.60" cy="307.10" r="1.95" fill="#b40d2d"/>
<circle cx="408.80" cy="306.60" r="1.95" fill="#b40d2d"/>
<circle cx="409.40" cy="311.30" r="1.95" fill="#b40d2d"/>
<circle cx="377.80" cy="311.90" r="1.95" fill="#b40d2d"/>
<circle cx="382.50" cy="311.50" r="1.95" fill="#b40d2d"/>
<circle cx="382.50" cy="313.80" r="1.95" fill="#b40d2d"/>
<circle cx="387.80" cy="313.50" r="1.95" fill="#b40d2d"/>
<circle cx="392.30" cy="315.40" r="1.95" fill="#b40d2d"/>
<circle cx="380.60" cy="316.30" r="1.95" fill="#b40d2d"/>
<circle cx="382.50" cy="316.90" r="1.95" fill="#b40d2d"/>
<circle cx="385.00" cy="316.50" r="1.95" fill="#b40d2d"/>
<circle cx="379.40" cy="320.60" r="1.95" fill="#b40d2d"/>
<circle cx="403.80" cy="320.90" r="1.95" fill="#b40d2d"/>
<circle cx="384.40" cy="323.80" r="1.95" fill="#b40d2d"/>
<circle cx="388.10" cy="326.90" r="1.95" fill="#b40d2d"/>
<circle cx="378.10" cy="328.10" r="1.95" fill="#b40d2d"/>
<circle cx="415.00" cy="328.80" r="1.95" fill="#b40d2d"/>
<circle cx="357.70" cy="331.90" r="1.95" fill="#b40d2d"/>
<circle cx="366.90" cy="330.80" r="1.95" fill="#b40d2d"/>
<circle cx="359.40" cy="325.00" r="1.95" fill="#b40d2d"/>
<circle cx="369.20" cy="336.00" r="1.95" fill="#b40d2d"/>
<circle cx="341.50" cy="338.30" r="1.95" fill="#b40d2d"/>
<circle cx="345.60" cy="337.70" r="1.95" fill="#b40d2d"/>
<circle cx="350.80" cy="338.80" r="1.95" fill="#b40d2d"/>
<circle cx="355.40" cy="336.50" r="1.95" fill="#b40d2d"/>
<circle cx="358.30" cy="336.50" r="1.95" fill="#b40d2d"/>
<circle cx="361.20" cy="336.00" r="1.95" fill="#b40d2d"/>
<circle cx="363.50" cy="339.40" r="1.95" fill="#b40d2d"/>
<circle cx="364.60" cy="340.00" r="1.95" fill="#b40d2d"/>
<circle cx="368.10" cy="341.40" r="1.95" fill="#b40d2d"/>
<circle cx="336.30" cy="342.90" r="1.95" fill="#b40d2d"/>
<circle cx="344.40" cy="342.30" r="1.95" fill="#b40d2d"/>
<circle cx="350.80" cy="342.30" r="1.95" fill="#b40d2d"/>
<circle cx="341.00" cy="344.80" r="1.95" fill="#b40d2d"/>
<circle cx="346.70" cy="345.80" r="1.95" fill="#b40d2d"/>
<circle cx="350.20" cy="344.60" r="1.95" fill="#b40d2d"/>
<circle cx="353.10" cy="346.90" r="1.95" fill="#b40d2d"/>
<circle cx="346.70" cy="348.10" r="1.95" fill="#b40d2d"/>
<circle cx="343.30" cy="349.80" r="1.95" fill="#b40d2d"/>
<circle cx="364.60" cy="348.10" r="1.95" fill="#b40d2d"/>
<circle cx="366.90" cy="349.80" r="1.95" fill="#b40d2d"/>
<circle cx="335.80" cy="353.60" r="1.95" fill="#b40d2d"/>
<circle cx="346.20" cy="352.70" r="1.95" fill="#b40d2d"/>
<circle cx="344.40" cy="355.20" r="1.95" fill="#b40d2d"/>
<circle cx="342.70" cy="356.20" r="1.95" fill="#b40d2d"/>
<circle cx="339.80" cy="358.50" r="1.95" fill="#b40d2d"/>
<circle cx="331.70" cy="359.00" r="1.95" fill="#b40d2d"/>
<circle cx="349.60" cy="356.70" r="1.95" fill="#b40d2d"/>
<circle cx="353.10" cy="356.40" r="1.95" fill="#b40d2d"/>
<circle cx="350.80" cy="359.60" r="1.95" fill="#b40d2d"/>
<circle cx="361.70" cy="356.70" r="1.95" fill="#b40d2d"/>
<circle cx="361.70" cy="360.80" r="1.95" fill="#b40d2d"/>
<circle cx="369.80" cy="355.20" r="1.95" fill="#b40d2d"/>
<circle cx="372.70" cy="352.70" r="1.95" fill="#b40d2d"/>
<circle cx="347.90" cy="362.50" r="1.95" fill="#b40d2d"/>
<circle cx="354.80" cy="364.20" r="1.95" fill="#b40d2d"/>
<circle cx="373.80" cy="363.10" r="1.95" fill="#b40d2d"/>
<circle cx="345.60" cy="369.20" r="1.95" fill="#b40d2d"/>
<circle cx="364.00" cy="368.80" r="1.95" fill="#b40d2d"/>
<circle cx="364.00" cy="371.70" r="1.95" fill="#b40d2d"/>
<circle cx="359.40" cy="372.30" r="1.95" fill="#b40d2d"/>
<circle cx="333.50" cy="374.60" r="1.95" fill="#b40d2d"/>
<circle cx="347.90" cy="374.00" r="1.95" fill="#b40d2d"/>
<circle cx="381.30" cy="331.90" r="1.95" fill="#b40d2d"/>
<circle cx="391.90" cy="331.90" r="1.95" fill="#b40d2d"/>
<circle cx="392.50" cy="334.00" r="1.95" fill="#b40d2d"/>
<circle cx="403.80" cy="336.00" r="1.95" fill="#b40d2d"/>
<circle cx="380.00" cy="336.90" r="1.95" fill="#b40d2d"/>
<circle cx="386.90" cy="341.30" r="1.95" fill="#b40d2d"/>
<circle cx="383.80" cy="344.80" r="1.95" fill="#b40d2d"/>
<circle cx="390.60" cy="344.40" r="1.95" fill="#b40d2d"/>
<circle cx="401.00" cy="343.80" r="1.95" fill="#b40d2d"/>
<circle cx="381.90" cy="349.80" r="1.95" fill="#b40d2d"/>
<circle cx="381.30" cy="352.80" r="1.95" fill="#b40d2d"/>
<circle cx="384.40" cy="354.60" r="1.95" fill="#b40d2d"/>
<circle cx="392.30" cy="350.30" r="1.95" fill="#b40d2d"/>
<circle cx="396.90" cy="349.40" r="1.95" fill="#b40d2d"/>
<circle cx="388.80" cy="357.50" r="1.95" fill="#b40d2d"/>
<circle cx="385.00" cy="362.90" r="1.95" fill="#b40d2d"/>
<circle cx="352.20" cy="378.40" r="1.95" fill="#b40d2d"/>
<circle cx="361.90" cy="379.90" r="1.95" fill="#b40d2d"/>
<circle cx="329.90" cy="385.80" r="1.95" fill="#b40d2d"/>
<circle cx="348.10" cy="397.60" r="1.95" fill="#b40d2d"/>
<circle cx="331.20" cy="411.90" r="1.95" fill="#b40d2d"/>
<line x1="330.40" y1="357.20" x2="417.00" y2="307.60" stroke="#1a1a1a" stroke-width="1.0"/>
</svg>
</body></html>
